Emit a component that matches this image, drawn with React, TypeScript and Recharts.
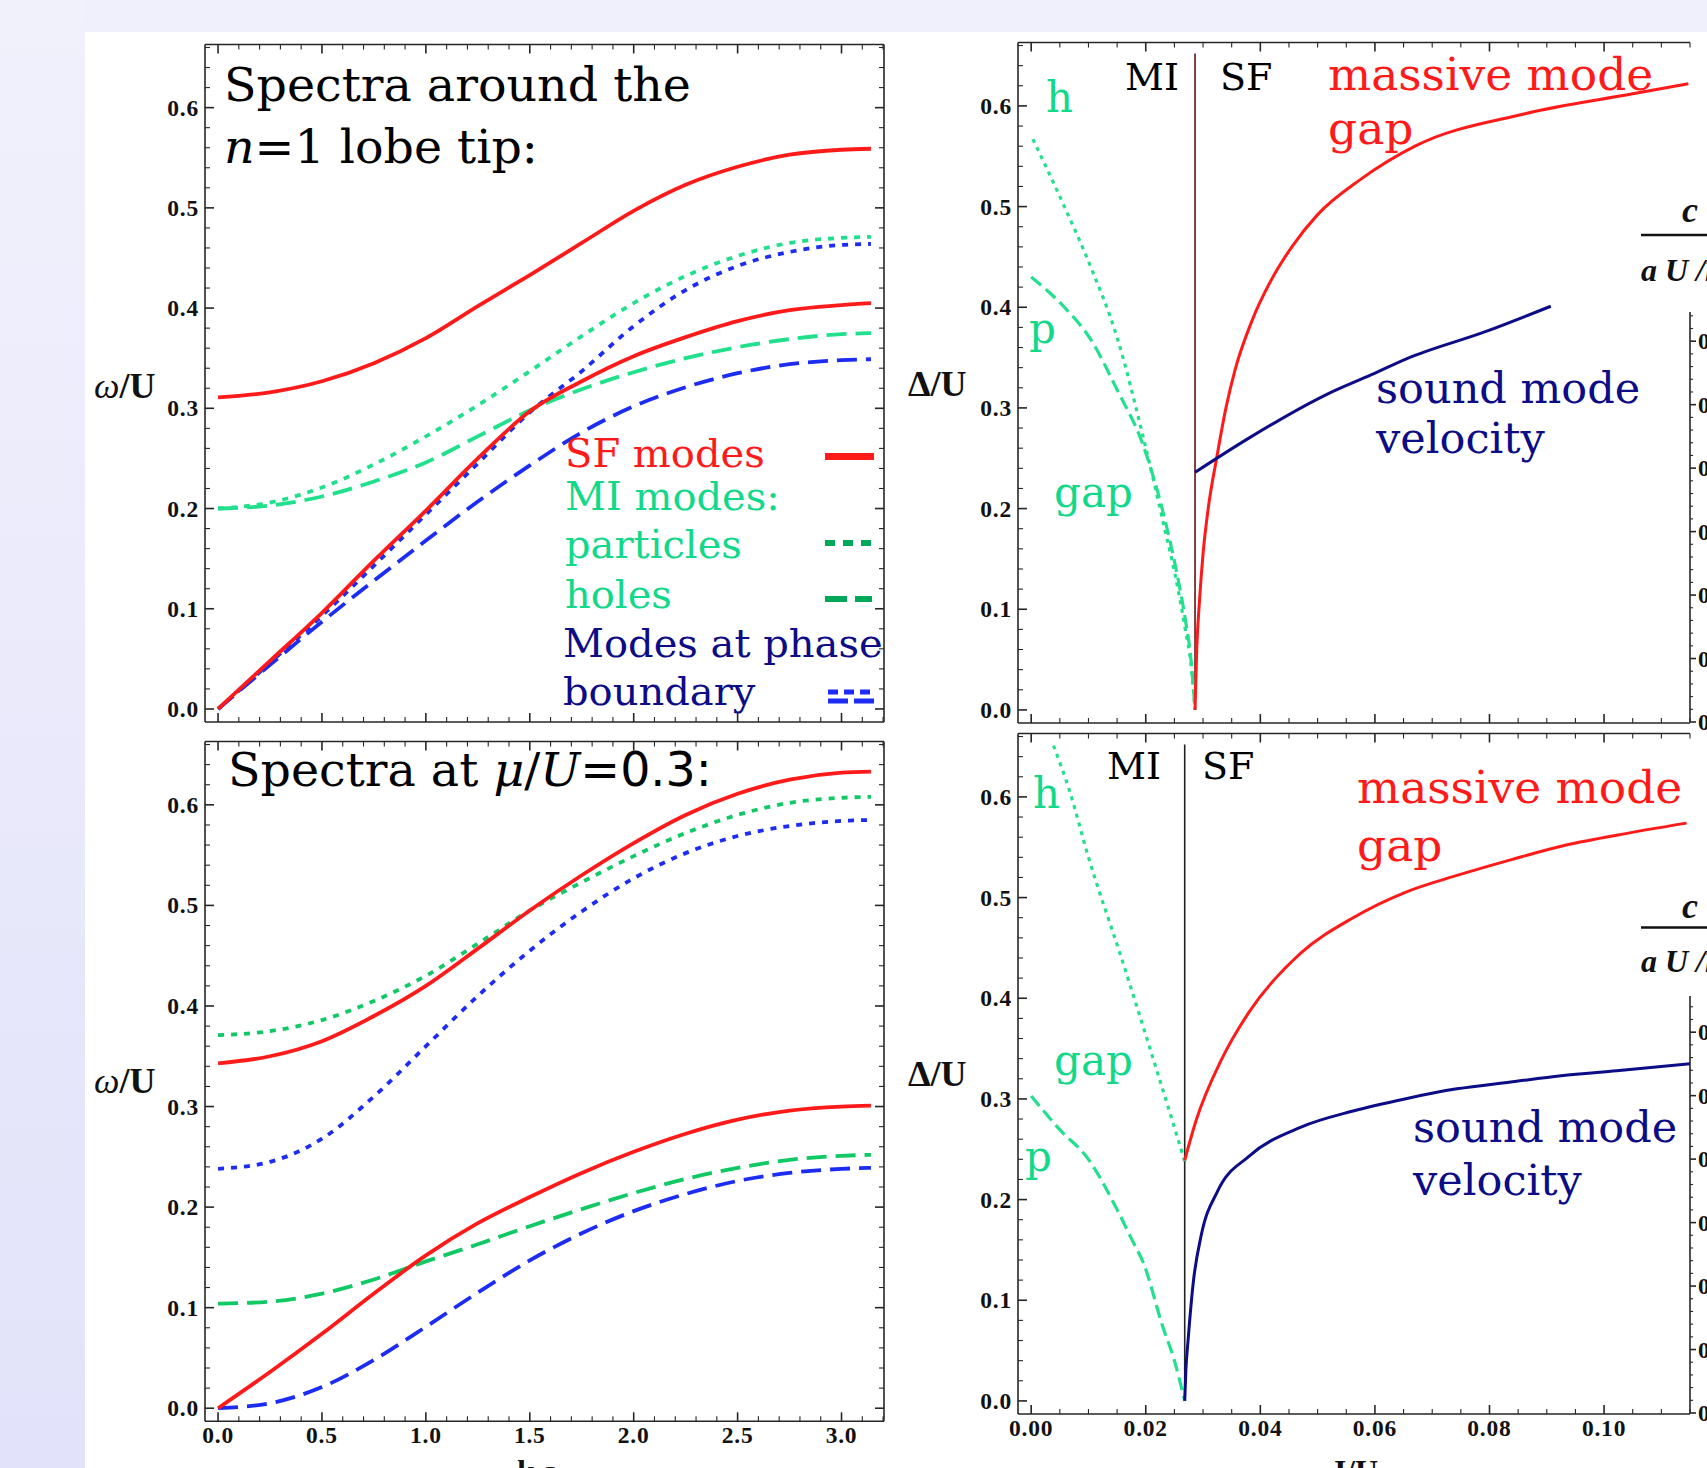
import React from "react";
import { LineChart, Line, XAxis, YAxis } from "recharts";

// ---------- data: left panels (k a on x, omega/U on y) ----------
const kValues = [0, 0.25, 0.5, 0.75, 1.0, 1.25, 1.5, 1.75, 2.0, 2.25, 2.5, 2.75, 3.0, 3.1416];

// Spectra around the n=1 lobe tip
const tipSfUpper = [0.311, 0.316, 0.327, 0.345, 0.37, 0.402, 0.433, 0.465, 0.497, 0.523, 0.541, 0.553, 0.558, 0.559];
const tipSfLower = [0.0, 0.048, 0.096, 0.148, 0.198, 0.25, 0.297, 0.327, 0.352, 0.371, 0.387, 0.398, 0.403, 0.405];
const tipMiParticles = [0.2, 0.206, 0.221, 0.244, 0.272, 0.303, 0.337, 0.372, 0.405, 0.432, 0.452, 0.465, 0.47, 0.471];
const tipMiHoles = [0.2, 0.203, 0.212, 0.227, 0.246, 0.272, 0.298, 0.319, 0.336, 0.35, 0.361, 0.369, 0.374, 0.375];
const tipBoundaryParticles = [0.0, 0.046, 0.093, 0.143, 0.194, 0.245, 0.296, 0.337, 0.382, 0.418, 0.442, 0.456, 0.463, 0.464];
const tipBoundaryHoles = [0.0, 0.044, 0.087, 0.128, 0.168, 0.207, 0.243, 0.276, 0.302, 0.321, 0.335, 0.344, 0.348, 0.349];

// Spectra at mu/U = 0.3
const muSfUpper = [0.343, 0.35, 0.365, 0.39, 0.42, 0.457, 0.495, 0.53, 0.562, 0.59, 0.611, 0.625, 0.632, 0.633];
const muSfLower = [0.0, 0.036, 0.074, 0.114, 0.152, 0.184, 0.21, 0.234, 0.255, 0.273, 0.287, 0.296, 0.3, 0.301];
const muMiParticles = [0.371, 0.375, 0.386, 0.405, 0.43, 0.462, 0.495, 0.523, 0.549, 0.572, 0.59, 0.602, 0.607, 0.608];
const muMiHoles = [0.104, 0.106, 0.114, 0.128, 0.146, 0.163, 0.181, 0.198, 0.214, 0.228, 0.239, 0.247, 0.251, 0.252];
const muBoundaryParticles = [0.238, 0.245, 0.268, 0.31, 0.36, 0.41, 0.455, 0.494, 0.527, 0.552, 0.569, 0.579, 0.584, 0.585];
const muBoundaryHoles = [0.0, 0.005, 0.021, 0.048, 0.081, 0.115, 0.147, 0.174, 0.196, 0.213, 0.226, 0.234, 0.238, 0.239];

// ---------- data: right panels (J/U on x, Delta/U on y) ----------
const tipJc = 0.0286;
const tipHoleGapJ = [0.0003, 0.0058, 0.0104, 0.015, 0.0196, 0.0233, 0.0251, 0.0269, 0.0279, 0.0286];
const tipHoleGap = [0.567, 0.5, 0.44, 0.37, 0.27, 0.18, 0.135, 0.08, 0.045, 0.0];
const tipParticleGapJ = [0.0, 0.0058, 0.0104, 0.015, 0.0196, 0.0233, 0.0251, 0.0269, 0.0279, 0.0286];
const tipParticleGap = [0.43, 0.4, 0.368, 0.318, 0.262, 0.19, 0.145, 0.09, 0.05, 0.0];
const tipMassiveJ = [0.0286, 0.0289, 0.0294, 0.03, 0.0309, 0.0324, 0.034, 0.0356, 0.0385, 0.042, 0.0455, 0.05, 0.0575, 0.067, 0.086, 0.105, 0.1147];
const tipMassive = [0.0, 0.06, 0.11, 0.155, 0.2, 0.251, 0.3, 0.338, 0.386, 0.428, 0.46, 0.492, 0.527, 0.56, 0.592, 0.612, 0.622];
const tipSoundJ = [0.0286, 0.038, 0.0518, 0.0594, 0.0656, 0.0794, 0.0907];
const tipSound = [0.236, 0.27, 0.314, 0.333, 0.349, 0.376, 0.401];

const muJc = 0.0268;
const muHoleGapJ = [0.0039, 0.0067, 0.01, 0.0157, 0.0214, 0.0252, 0.0268];
const muHoleGap = [0.651, 0.606, 0.54, 0.441, 0.338, 0.268, 0.238];
const muParticleGapJ = [0.0, 0.0049, 0.01, 0.015, 0.0176, 0.0196, 0.0229, 0.025, 0.0268];
const muParticleGap = [0.303, 0.27, 0.24, 0.19, 0.16, 0.137, 0.075, 0.04, 0.0];
const muMassiveJ = [0.0268, 0.0287, 0.0333, 0.038, 0.0471, 0.0562, 0.0652, 0.0743, 0.084, 0.0925, 0.1022, 0.1144];
const muMassive = [0.239, 0.277, 0.34, 0.386, 0.445, 0.48, 0.505, 0.522, 0.538, 0.551, 0.562, 0.574];
const muSoundJ = [0.0268, 0.027, 0.0274, 0.0283, 0.0297, 0.0325, 0.038, 0.0471, 0.0562, 0.0652, 0.0743, 0.084, 0.0925, 0.1022, 0.1153];
const muSound = [0.0, 0.03, 0.061, 0.118, 0.165, 0.208, 0.243, 0.272, 0.288, 0.3, 0.31, 0.317, 0.323, 0.328, 0.335];

const phaseLineTop = 0.652;

// ---------- tick labels ----------
const kTicks = [0, 0.5, 1.0, 1.5, 2.0, 2.5, 3.0];
const omegaTicks = [0, 0.1, 0.2, 0.3, 0.4, 0.5, 0.6];
const jTicks = [0, 0.02, 0.04, 0.06, 0.08, 0.1];
const velocityTicks = [0, 0.1, 0.2, 0.3, 0.4, 0.5, 0.6];

// ---------- styles ----------
const RED = "#ff1a1a";
const GREEN_TIP = "#20e08c";
const GREEN_MU = "#10c864";
const GREEN_R = "#22e08e";
const GREEN_TEXT = "#12d98a";
const GREEN_KEY = "#00a85c";
const BLUE = "#1c2cf2";
const NAVY = "#0c0c86";
const AXIS = "#262626";
const SERIF = "'DejaVu Serif', serif";
const TICKFONT = "'Liberation Serif', 'Times New Roman', serif";

const X_DOM_K: [number, number] = [-0.0628, 3.2044];
const Y_DOM: [number, number] = [-0.013, 0.663];
const X_DOM_J: [number, number] = [-0.0023, 0.115];

function withMinor(majors: number[], parts: number, lo: number, hi: number) {
  const step = (majors[1] - majors[0]) / parts;
  const out: number[] = [];
  const s = Math.ceil((lo - 1e-9) / step);
  const e = Math.floor((hi + 1e-9) / step);
  for (let i = s; i <= e; i++) out.push(+(i * step).toFixed(6));
  return out;
}

function tickFactory(side: string, majorStep: number, digits: number, showLabel: boolean, majorLen = 9, minorLen = 5) {
  return (props: any) => {
    const { x, y, payload } = props;
    const v = payload.value as number;
    const r = v / majorStep;
    const major = Math.abs(r - Math.round(r)) < 1e-6;
    const len = major ? majorLen : minorLen;
    let x2 = x, y2 = y;
    if (side === "bottom") y2 = y - len;
    if (side === "top") y2 = y + len;
    if (side === "left") x2 = x + len;
    if (side === "right") x2 = x - len;
    if (side === "inset") x2 = x + len;
    let label: any = null;
    const fp = { fontFamily: TICKFONT, fontWeight: "bold", fontSize: 23.5, letterSpacing: 0.8, fill: "#111" };
    if (showLabel && major) {
      const txt = v.toFixed(digits);
      if (side === "bottom") label = <text x={x} y={y + 22} textAnchor="middle" {...fp}>{txt}</text>;
      else if (side === "left") label = <text x={x - 6} y={y + 8} textAnchor="end" {...fp}>{txt}</text>;
      else if (side === "inset") label = <text x={x + 8} y={y + 8} textAnchor="start" {...fp}>{txt}</text>;
    }
    return (
      <g>
        <line x1={x} y1={y} x2={x2} y2={y2} stroke={AXIS} strokeWidth={major ? 1.6 : 1.1} />
        {label}
      </g>
    );
  };
}

const axisLine = { stroke: AXIS, strokeWidth: 1.6 };

function frameAxes(xDom: [number, number], xMajors: number[], xParts: number, xDigits: number, xLabels: boolean, rightFrame: boolean) {
  const xt = withMinor(xMajors, xParts, xDom[0], xDom[1]);
  const yt = withMinor(omegaTicks, 5, Y_DOM[0], Y_DOM[1]);
  const xStep = xMajors[1] - xMajors[0];
  const axes = [
    <XAxis key="xb" xAxisId="b" type="number" dataKey="x" domain={xDom} allowDataOverflow ticks={xt} interval={0}
      tick={tickFactory("bottom", xStep, xDigits, xLabels)} tickLine={false} tickSize={0} tickMargin={0} height={1} axisLine={axisLine} />,
    <XAxis key="xt" xAxisId="t" orientation="top" type="number" dataKey="x" domain={xDom} allowDataOverflow ticks={xt} interval={0}
      tick={tickFactory("top", xStep, xDigits, false)} tickLine={false} tickSize={0} tickMargin={0} height={1} axisLine={axisLine} />,
    <YAxis key="yl" yAxisId="l" type="number" dataKey="y" domain={Y_DOM} allowDataOverflow ticks={yt} interval={0}
      tick={tickFactory("left", 0.1, 1, true)} tickLine={false} tickSize={0} tickMargin={0} width={1} axisLine={axisLine} />,
  ];
  if (rightFrame)
    axes.push(
      <YAxis key="yr" yAxisId="r" orientation="right" type="number" dataKey="y" domain={Y_DOM} allowDataOverflow ticks={yt} interval={0}
        tick={tickFactory("right", 0.1, 1, false)} tickLine={false} tickSize={0} tickMargin={0} width={1} axisLine={axisLine} />
    );
  return axes;
}

function series(xs: number[], ys: number[]) {
  return xs.map((x, i) => ({ x, y: ys[i] }));
}

const tipData = kValues.map((x, i) => ({
  x,
  sfU: tipSfUpper[i], sfL: tipSfLower[i], miP: tipMiParticles[i], miH: tipMiHoles[i],
  bP: tipBoundaryParticles[i], bH: tipBoundaryHoles[i],
}));
const muData = kValues.map((x, i) => ({
  x,
  sfU: muSfUpper[i], sfL: muSfLower[i], miP: muMiParticles[i], miH: muMiHoles[i],
  bP: muBoundaryParticles[i], bH: muBoundaryHoles[i],
}));

const DOT = "6 7";
const DASH = "20 9";

function leftLines(green: string) {
  const common = { xAxisId: "b", yAxisId: "l", type: "monotone" as const, dot: false, isAnimationActive: false, strokeWidth: 3.8 };
  return [
    <Line key="miH" {...common} dataKey="miH" stroke={green} strokeDasharray={DASH} />,
    <Line key="miP" {...common} dataKey="miP" stroke={green} strokeDasharray={DOT} />,
    <Line key="bH" {...common} dataKey="bH" stroke={BLUE} strokeDasharray={DASH} />,
    <Line key="bP" {...common} dataKey="bP" stroke={BLUE} strokeDasharray={DOT} />,
    <Line key="sfU" {...common} dataKey="sfU" stroke={RED} />,
    <Line key="sfL" {...common} dataKey="sfL" stroke={RED} />,
  ];
}

function rightLines(
  hJ: number[], h: number[], pJ: number[], p: number[], mJ: number[], m: number[], sJ: number[], s: number[], jc: number, phaseColor: string
) {
  const common = { xAxisId: "b", yAxisId: "l", dataKey: "y", dot: false, isAnimationActive: false };
  return [
    <Line key="phase" {...common} type="linear" data={series([jc, jc], [0, phaseLineTop])} stroke={phaseColor} strokeWidth={1.6} />,
    <Line key="h" {...common} type="monotone" data={series(hJ, h)} stroke={GREEN_R} strokeWidth={3.2} strokeDasharray="4 5" />,
    <Line key="p" {...common} type="monotone" data={series(pJ, p)} stroke={GREEN_R} strokeWidth={3.2} strokeDasharray="13 6" />,
    <Line key="m" {...common} type="monotone" data={series(mJ, m)} stroke={RED} strokeWidth={3} />,
    <Line key="s" {...common} type="monotone" data={series(sJ, s)} stroke={NAVY} strokeWidth={3} />,
  ];
}

function Inset({ left, top, height, mt, mb, dom }: { left: number; top: number; height: number; mt: number; mb: number; dom: [number, number] }) {
  const yt = withMinor(velocityTicks, 5, dom[0], dom[1]);
  return (
    <div style={{ position: "absolute", left, top }}>
      <LineChart width={150} height={height} data={[]} margin={{ top: mt, left: 89, right: 10, bottom: mb }}>
        <XAxis hide type="number" dataKey="x" domain={[0, 1]} />
        <YAxis type="number" domain={dom} allowDataOverflow ticks={yt} interval={0}
          tick={tickFactory("inset", 0.1, 1, true, 6, 3)} tickLine={false} tickSize={0} tickMargin={0} width={1} axisLine={axisLine} />
      </LineChart>
    </div>
  );
}

const J_RANGE_DATA = [{ x: X_DOM_J[0] }, { x: X_DOM_J[1] }];

export default function App() {
  const kAxesTip = frameAxes(X_DOM_K, kTicks, 5, 1, false, true);
  const kAxesMu = frameAxes(X_DOM_K, kTicks, 5, 1, true, true);
  const jAxesTip = frameAxes(X_DOM_J, jTicks, 4, 2, false, false);
  const jAxesMu = frameAxes(X_DOM_J, jTicks, 4, 2, true, false);

  const txt = (x: number, y: number, s: React.ReactNode, fill: string, size: number, extra: any = {}) => (
    <text x={x} y={y} fill={fill} fontSize={size} fontFamily={SERIF} {...extra}>{s}</text>
  );

  return (
    <div style={{ position: "absolute", left: 0, top: 0, width: 1707, height: 1468, overflow: "hidden", background: "#f0f0fc" }}>
      <div style={{ position: "absolute", left: 0, top: 0, width: 85, height: 1468, background: "linear-gradient(#f1f1fc, #e2e2fa)" }} />
      <div style={{ position: "absolute", left: 85, top: 32, width: 1622, height: 1436, background: "#ffffff" }} />

      <div style={{ position: "absolute", left: 120, top: 20 }}>
        <LineChart width={800} height={760} data={tipData} margin={{ top: 23.5, left: 84, right: 35, bottom: 57 }}>
          {kAxesTip}
          {leftLines(GREEN_TIP)}
        </LineChart>
      </div>

      <div style={{ position: "absolute", left: 120, top: 720 }}>
        <LineChart width={800} height={748} data={muData} margin={{ top: 20.5, left: 84, right: 35, bottom: 45.7 }}>
          {kAxesMu}
          {leftLines(GREEN_MU)}
        </LineChart>
      </div>

      <div style={{ position: "absolute", left: 900, top: 20 }}>
        <LineChart width={807} height={760} data={J_RANGE_DATA} margin={{ top: 21.5, left: 117, right: 17, bottom: 56 }}>
          {jAxesTip}
          {rightLines(tipHoleGapJ, tipHoleGap, tipParticleGapJ, tipParticleGap, tipMassiveJ, tipMassive, tipSoundJ, tipSound, tipJc, "#5c1414")}
        </LineChart>
      </div>

      <div style={{ position: "absolute", left: 900, top: 720 }}>
        <LineChart width={807} height={748} data={J_RANGE_DATA} margin={{ top: 12.5, left: 117, right: 17, bottom: 53 }}>
          {jAxesMu}
          {rightLines(muHoleGapJ, muHoleGap, muParticleGapJ, muParticleGap, muMassiveJ, muMassive, muSoundJ, muSound, muJc, "#222222")}
        </LineChart>
      </div>

      <Inset left={1600} top={290} height={450} mt={22} mb={18} dom={[0, 0.646]} />
      <Inset left={1600} top={970} height={460} mt={26} mb={17} dom={[0, 0.657]} />

      <svg width={1707} height={1468} style={{ position: "absolute", left: 0, top: 0, pointerEvents: "none" }}>
        {/* titles */}
        {txt(224, 101, "Spectra around the", "#000", 47.5)}
        {txt(224, 163, <><tspan fontStyle="italic">n</tspan>=1 lobe tip:</>, "#000", 47.5)}
        {txt(228, 786, <>Spectra at <tspan fontStyle="italic">μ</tspan>/<tspan fontStyle="italic">U</tspan><tspan fontFamily="'DejaVu Sans', sans-serif">=0.3:</tspan></>, "#000", 47.5)}

        {/* legend */}
        {txt(565, 467, "SF modes", RED, 40)}
        {txt(565, 510, "MI modes:", GREEN_TEXT, 40)}
        {txt(565, 558, "particles", GREEN_TEXT, 40)}
        {txt(565, 608, "holes", GREEN_TEXT, 40)}
        {txt(563, 657, "Modes at phase", NAVY, 40)}
        {txt(563, 705, "boundary", NAVY, 40)}
        <line x1={825} y1={456.5} x2={874} y2={456.5} stroke={RED} strokeWidth={7} />
        <line x1={825} y1={543} x2={872} y2={543} stroke={GREEN_KEY} strokeWidth={6} strokeDasharray="10 8" />
        <line x1={825} y1={599} x2={872} y2={599} stroke={GREEN_KEY} strokeWidth={6} strokeDasharray="22 8" />
        <line x1={828} y1={692} x2={874} y2={692} stroke={BLUE} strokeWidth={5} strokeDasharray="10 6" />
        <line x1={828} y1={701} x2={874} y2={701} stroke={BLUE} strokeWidth={5} strokeDasharray="20 6" />

        {/* axis titles */}
        <text x={94} y={398} fontFamily={TICKFONT} fontWeight="bold" fontSize={36} fill="#111"><tspan fontStyle="italic" fontWeight="normal">ω</tspan>/U</text>
        <text x={94} y={1093} fontFamily={TICKFONT} fontWeight="bold" fontSize={36} fill="#111"><tspan fontStyle="italic" fontWeight="normal">ω</tspan>/U</text>
        <text x={908} y={396} fontFamily={TICKFONT} fontWeight="bold" fontSize={36} fill="#111">Δ/U</text>
        <text x={908} y={1086} fontFamily={TICKFONT} fontWeight="bold" fontSize={36} fill="#111">Δ/U</text>
        <text x={517} y={1482} fontFamily={TICKFONT} fontWeight="bold" fontSize={32} fill="#111">k a</text>
        <text x={1330} y={1482} fontFamily={TICKFONT} fontWeight="bold" fontSize={32} fill="#111">J/U</text>

        {/* right-top annotations */}
        {txt(1125, 90, "MI", "#000", 38)}
        {txt(1220, 90, "SF", "#000", 38)}
        {txt(1328, 90, "massive mode", RED, 45.5)}
        {txt(1328, 144, "gap", RED, 45.5)}
        {txt(1046, 112, "h", GREEN_TEXT, 42)}
        {txt(1029, 343, "p", GREEN_TEXT, 42)}
        {txt(1054, 507, "gap", GREEN_TEXT, 42)}
        {txt(1376, 403, "sound mode", NAVY, 43)}
        {txt(1376, 453, "velocity", NAVY, 43)}

        {/* right-bottom annotations */}
        {txt(1107, 779, "MI", "#000", 38)}
        {txt(1202, 779, "SF", "#000", 38)}
        {txt(1357, 803, "massive mode", RED, 45.5)}
        {txt(1357, 861, "gap", RED, 45.5)}
        {txt(1033, 808, "h", GREEN_TEXT, 42)}
        {txt(1054, 1075, "gap", GREEN_TEXT, 42)}
        {txt(1025, 1171, "p", GREEN_TEXT, 42)}
        {txt(1413, 1142, "sound mode", NAVY, 43)}
        {txt(1413, 1195, "velocity", NAVY, 43)}

        {/* cut-off inset axis titles */}
        <text x={1682} y={222} fontFamily={TICKFONT} fontWeight="bold" fontStyle="italic" fontSize={36} fill="#111">c</text>
        <line x1={1641} y1={235} x2={1707} y2={235} stroke="#111" strokeWidth={2.6} />
        <text x={1641} y={281} fontFamily={TICKFONT} fontWeight="bold" fontStyle="italic" fontSize={32} fill="#111">a U /ħ</text>
        <text x={1682} y={918} fontFamily={TICKFONT} fontWeight="bold" fontStyle="italic" fontSize={36} fill="#111">c</text>
        <line x1={1641} y1={927.5} x2={1707} y2={927.5} stroke="#111" strokeWidth={2.6} />
        <text x={1641} y={972} fontFamily={TICKFONT} fontWeight="bold" fontStyle="italic" fontSize={32} fill="#111">a U /ħ</text>
      </svg>
    </div>
  );
}
